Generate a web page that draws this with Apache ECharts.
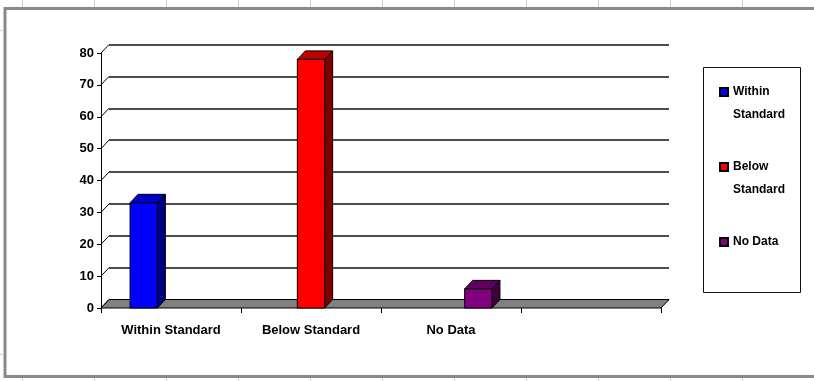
<!DOCTYPE html>
<html>
<head>
<meta charset="utf-8">
<script src="https://cdn.jsdelivr.net/npm/echarts@6/dist/echarts.min.js"></script>
<style>
html,body{margin:0;padding:0;background:#fff;}
#chart{width:814px;height:381px;}
</style>
</head>
<body>
<div id="chart"></div>
<script>
// ---- data ----
const categories = ['Within Standard', 'Below Standard', 'No Data', ''];
const seriesNames = ['Within Standard', 'Below Standard', 'No Data'];
const withinStandard = [33, 0, 0, 0];
const belowStandard = [0, 78, 0, 0];
const noData = [0, 0, 6, 0];
const yTicks = [0, 10, 20, 30, 40, 50, 60, 70, 80];
const legendLabels = ['Within\nStandard', 'Below\nStandard', 'No Data'];

// ---- style ----
const DX = 8, DY = -8.5;
const BAR_RATIO = 0.195;
const palettes = [
  { front: '#0000FF', top: '#0000C8', side: '#000080' },
  { front: '#FF0000', top: '#C00000', side: '#800000' },
  { front: '#800080', top: '#600060', side: '#400040' }
];
const FONT = 'Liberation Sans, Arial, sans-serif';

const chart = echarts.init(document.getElementById('chart'), null, { renderer: 'canvas' });

function barRenderer(sIdx) {
  const pal = palettes[sIdx];
  return function (params, api) {
    const v = api.value(1);
    if (!v) return null;
    const c = api.coord([api.value(0), v]);
    const b = api.coord([api.value(0), 0]);
    const bw = api.size([1, 0])[0];
    const w = bw * BAR_RATIO;
    const cx = c[0] + (sIdx - 1) * w;
    const x0 = cx - w / 2, x1 = cx + w / 2, yt = c[1], yb = b[1];
    const st = { stroke: '#000', lineWidth: 1 };
    return {
      type: 'group',
      children: [
        { type: 'polygon', shape: { points: [[x1, yb], [x1 + DX, yb + DY], [x1 + DX, yt + DY], [x1, yt]] },
          style: Object.assign({ fill: pal.side }, st) },
        { type: 'polygon', shape: { points: [[x0, yt], [x0 + DX, yt + DY], [x1 + DX, yt + DY], [x1, yt]] },
          style: Object.assign({ fill: pal.top }, st) },
        { type: 'rect', shape: { x: x0, y: yt, width: w, height: yb - yt },
          style: Object.assign({ fill: pal.front }, st) }
      ]
    };
  };
}

const seriesData = [withinStandard, belowStandard, noData];

const decor = [];
// frame
decor.push({ type: 'rect', shape: { x: 5, y: 8.5, width: 900, height: 368 },
  style: { fill: null, stroke: '#8a8a8a', lineWidth: 3 }, z: 0 });
// legend box
decor.push({ type: 'rect', shape: { x: 703.5, y: 67.5, width: 97, height: 225 },
  style: { fill: '#fff', stroke: '#111', lineWidth: 1 }, z: 0 });
// spreadsheet cell marks
for (let x = 22; x < 814; x += 72) {
  decor.push({ type: 'line', shape: { x1: x + 0.5, y1: 0, x2: x + 0.5, y2: 7 }, style: { stroke: '#cfcfcf', lineWidth: 1 }, z: 0 });
  decor.push({ type: 'line', shape: { x1: x + 0.5, y1: 378, x2: x + 0.5, y2: 381 }, style: { stroke: '#cfcfcf', lineWidth: 1 }, z: 0 });
}
decor.push({ type: 'line', shape: { x1: 0, y1: 30.5, x2: 4, y2: 30.5 }, style: { stroke: '#cfcfcf', lineWidth: 1 }, z: 0 });
decor.push({ type: 'line', shape: { x1: 0, y1: 354.5, x2: 4, y2: 354.5 }, style: { stroke: '#cfcfcf', lineWidth: 1 }, z: 0 });

const option = {
  animation: false,
  backgroundColor: '#fff',
  graphic: { elements: decor },
  grid: [
    { left: 101, right: 153, top: 53, bottom: 73, containLabel: false },
    { left: 101 + DX, right: 153 - DX, top: 53 + DY, bottom: 73 - DY, containLabel: false }
  ],
  xAxis: [
    { type: 'category', gridIndex: 0, data: categories, boundaryGap: true,
      axisLine: { show: false },
      axisTick: { show: true, interval: 0, length: 5, lineStyle: { color: '#000', width: 1 } },
      axisLabel: { interval: 0, margin: 16, color: '#000', fontFamily: FONT, fontSize: 13, fontWeight: 'bold' },
      splitLine: { show: false } },
    { type: 'category', gridIndex: 1, data: categories, show: false }
  ],
  yAxis: [
    { type: 'value', gridIndex: 0, min: 0, max: 80, interval: 10,
      axisLine: { show: true, lineStyle: { color: '#000', width: 1 } },
      axisTick: { show: true, length: 4, lineStyle: { color: '#000', width: 1 } },
      axisLabel: { margin: 7, color: '#000', fontFamily: FONT, fontSize: 13, fontWeight: 'bold' },
      splitLine: { show: false } },
    { type: 'value', gridIndex: 1, min: 0, max: 80, interval: 10,
      axisLine: { show: false }, axisTick: { show: false }, axisLabel: { show: false },
      splitLine: { show: true, lineStyle: { color: '#111', width: 1.6 } } }
  ],
  legend: {
    orient: 'vertical', left: 719, top: 57.5, padding: 0, itemGap: 6,
    itemWidth: 8, itemHeight: 8, icon: 'rect',
    data: seriesNames,
    formatter: function (name) {
      const lbl = legendLabels[seriesNames.indexOf(name)];
      return lbl.indexOf('\n') >= 0 ? '\n' + lbl : '\n' + lbl + '\n';
    },
    textStyle: { color: '#000', fontFamily: FONT, fontSize: 12, fontWeight: 'bold', lineHeight: 23 },
    selectedMode: false
  },
  series: [
    // floor
    { type: 'custom', xAxisIndex: 0, yAxisIndex: 0, silent: true, z: 1,
      data: [[0, 0]],
      renderItem: function (params, api) {
        const bw = api.size([1, 0])[0];
        const p0 = api.coord([0, 0]);
        const p1 = api.coord([categories.length - 1, 0]);
        const xl = p0[0] - bw / 2, xr = p1[0] + bw / 2, y = p0[1];
        return { type: 'polygon',
          shape: { points: [[xl, y], [xr, y], [xr + DX, y + DY], [xl + DX, y + DY]] },
          style: { fill: '#808080', stroke: '#000', lineWidth: 1 } };
      } },
    // connectors from front axis to back wall gridlines
    { type: 'custom', xAxisIndex: 0, yAxisIndex: 0, silent: true, z: 1,
      data: yTicks.map(v => [0, v]),
      renderItem: function (params, api) {
        const bw = api.size([1, 0])[0];
        const p = api.coord([0, api.value(1)]);
        const xl = p[0] - bw / 2;
        return { type: 'line', shape: { x1: xl, y1: p[1], x2: xl + DX, y2: p[1] + DY },
          style: { stroke: '#000', lineWidth: 1 } };
      } }
  ].concat(seriesNames.map((name, i) => ({
    type: 'custom', name: name, xAxisIndex: 0, yAxisIndex: 0, z: 3,
    itemStyle: { color: palettes[i].front, borderColor: '#000', borderWidth: 1 },
    data: seriesData[i].map((v, k) => [k, v]),
    renderItem: barRenderer(i)
  })))
};

chart.setOption(option);
</script>
</body>
</html>
